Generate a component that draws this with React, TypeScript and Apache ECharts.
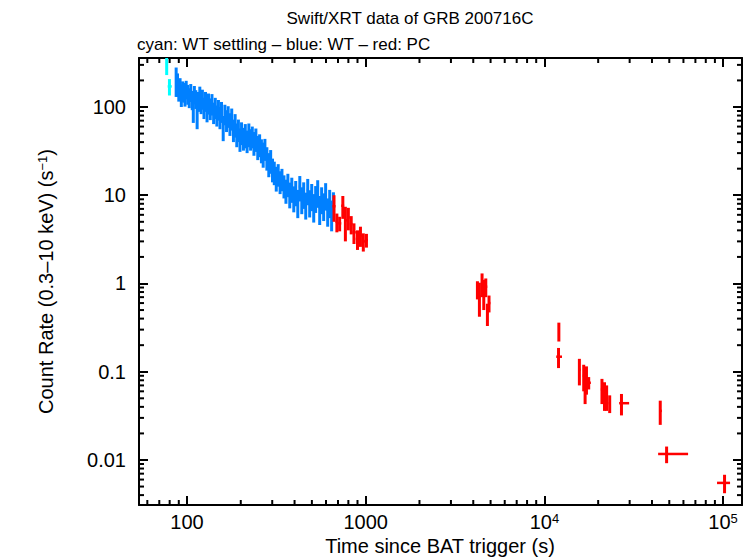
import React, { useEffect, useRef } from 'react';
import * as echarts from 'echarts';

const X_MIN = 53.9;
const X_MAX = 127600;
const Y_MIN = 0.00309;
const Y_MAX = 359;
const FONT = '"Liberation Sans", Arial, Helvetica, sans-serif';

// WT settling (cyan)
const settlingTime = [77.0, 79.8];
const settlingTimeLo = [76.2, 78.0];
const settlingTimeHi = [77.8, 82.2];
const settlingRate = [315, 171];
const settlingErr = [85, 36];

// WT (blue)
const wtTime = [87, 88.5, 90, 91.5, 93, 94.5, 96, 97.5, 99,
  101, 103, 105, 107, 108.5, 110, 112, 114, 116, 118, 120,
  122, 124.5, 127, 129.5, 132, 135, 138, 141, 144, 147, 150,
  153, 156, 159.5, 163, 166.5, 170, 174, 178, 182, 186, 190,
  194, 198, 202, 207, 212, 217, 222, 227, 232, 237,
  243, 249, 255, 261, 267, 273, 280, 287, 294, 301,
  308, 316, 324, 332, 340, 349, 358, 367, 376, 386,
  396, 406, 417, 428, 439, 450, 462, 474, 486, 499,
  512, 525, 539, 553, 567, 582, 597, 613, 629, 645, 660];
const wtRate = [205, 185, 160, 170, 140, 155, 150, 135, 160,
  142, 130, 148, 122, 92, 140, 125, 80, 118, 135, 110,
  125, 100, 118, 92, 112, 98, 110, 88, 100, 82, 95,
  78, 90, 60, 84, 72, 80, 66, 75, 56, 64, 50,
  56, 44, 52, 45, 49, 42, 50, 44, 47, 40,
  44, 36, 38, 33, 30, 34, 27, 23, 25, 20,
  18.5, 16, 17.5, 14.5, 15.5, 13, 11.5, 13.5, 10.5, 12,
  9.5, 11, 8.5, 12.5, 9.2, 10.5, 8, 11.5, 8.5, 10,
  7.6, 9.5, 11, 7.2, 9.2, 7.8, 10.2, 6.8, 8.5, 6.3, 8];
const wtErr = [75, 55, 45, 42, 40, 40, 38, 34, 38,
  36, 33, 34, 30, 26, 33, 30, 24, 30, 35, 27,
  32, 27, 30, 25, 30, 27, 30, 24, 27, 22, 25,
  22, 24, 19, 22, 20, 22, 19, 21, 16, 19, 15,
  16, 13, 15, 13, 15, 12, 15, 12, 13, 12,
  13, 11, 11, 10, 9.5, 9.5, 8, 7, 7.5, 6,
  5.5, 5, 5, 4.2, 4.4, 3.8, 3.5, 4, 3.4, 3.8,
  3.1, 3.5, 3, 4, 3.1, 3.5, 2.7, 3.8, 2.9, 3.4,
  2.7, 3.2, 3.8, 2.6, 3.1, 2.7, 3.5, 2.4, 3, 2.4, 2.8];

// PC (red)
const pcTime = [665, 690, 715, 745, 770, 800, 830, 860, 900, 935, 970, 1010,
  4220, 4330, 4480, 4580, 4700, 4800, 4900,
  12050, 12000,
  15700, 16600, 16900, 17200, 17700,
  21000, 21700, 22300, 23200,
  27000, 44500, 48300, 101900];
const pcTimeLo = [652, 678, 702, 730, 758, 785, 815, 845, 880, 918, 952, 990,
  4150, 4290, 4420, 4540, 4620, 4740, 4840,
  11950, 11650,
  15450, 16400, 16750, 17000, 17300,
  20700, 21450, 22000, 22900,
  26200, 43800, 43300, 92500];
const pcTimeHi = [678, 702, 730, 758, 785, 815, 845, 880, 918, 952, 990, 1030,
  4290, 4400, 4540, 4620, 4790, 4860, 4990,
  12150, 12550,
  15950, 16800, 17050, 17400, 18200,
  21300, 21950, 22600, 23500,
  29800, 45400, 63700, 109400];
const pcRate = [7.5, 5.0, 4.8, 7.6, 5.2, 5.6, 4.7, 3.8, 3.2, 3.5, 3.0, 3.1,
  0.86, 0.72, 1.0, 0.8, 0.92, 0.46, 0.6,
  0.29, 0.148,
  0.105, 0.09, 0.068, 0.085, 0.075,
  0.063, 0.056, 0.053, 0.044,
  0.044, 0.036, 0.0117, 0.0055];
const pcErr = [2.5, 1.2, 0.9, 2.2, 2.2, 1.6, 1.1, 1.0, 0.8, 0.9, 0.7, 0.55,
  0.2, 0.3, 0.3, 0.3, 0.22, 0.13, 0.13,
  0.07, 0.038,
  0.035, 0.03, 0.025, 0.03, 0.012,
  0.02, 0.02, 0.017, 0.01,
  0.012, 0.011, 0.0025, 0.0013];

function rows(t: number[], lo: number[], hi: number[], r: number[], e: number[]) {
  return t.map((v, i) => [v, lo[i], hi[i], r[i], e[i]]);
}

function wtEdges() {
  const lo: number[] = [];
  const hi: number[] = [];
  for (let i = 0; i < wtTime.length; i++) {
    const prev = i > 0 ? wtTime[i - 1] : wtTime[i] * wtTime[i] / wtTime[i + 1];
    const next = i < wtTime.length - 1 ? wtTime[i + 1] : wtTime[i] * wtTime[i] / wtTime[i - 1];
    lo.push(Math.sqrt(prev * wtTime[i]));
    hi.push(Math.sqrt(next * wtTime[i]));
  }
  return { lo, hi };
}

const makeErrRender = (color: string) => (params: any, api: any) => {
  const t = api.value(0), lo = api.value(1), hi = api.value(2), r = api.value(3), e = api.value(4);
  const c = api.coord([t, r]);
  const a = api.coord([lo, r]);
  const b = api.coord([hi, r]);
  const top = api.coord([t, r + e]);
  const bot = api.coord([t, Math.max(r - e, Y_MIN * 0.5)]);
  return {
    type: 'group',
    children: [
      { type: 'line', shape: { x1: a[0], y1: c[1], x2: b[0], y2: c[1] }, style: { stroke: color, lineWidth: 2.5 } },
      { type: 'line', shape: { x1: c[0], y1: top[1], x2: c[0], y2: bot[1] }, style: { stroke: color, lineWidth: 3 } },
    ],
  };
};

const minorTickRender = (params: any, api: any) => {
  const cs = params.coordSys;
  const children: any[] = [];
  const st = { stroke: '#000', lineWidth: 2 };
  const L = 5;
  for (let k = 0; k <= 6; k++) {
    for (let m = 2; m <= 9; m++) {
      const v = m * Math.pow(10, k);
      if (v <= X_MIN || v >= X_MAX) continue;
      const px = api.coord([v, 1])[0];
      children.push({ type: 'line', shape: { x1: px, y1: cs.y + cs.height, x2: px, y2: cs.y + cs.height - L }, style: st });
      children.push({ type: 'line', shape: { x1: px, y1: cs.y, x2: px, y2: cs.y + L }, style: st });
    }
  }
  for (let k = -4; k <= 3; k++) {
    for (let m = 2; m <= 9; m++) {
      const v = m * Math.pow(10, k);
      if (v <= Y_MIN || v >= Y_MAX) continue;
      const py = api.coord([100, v])[1];
      children.push({ type: 'line', shape: { x1: cs.x, y1: py, x2: cs.x + L, y2: py }, style: st });
      children.push({ type: 'line', shape: { x1: cs.x + cs.width, y1: py, x2: cs.x + cs.width - L, y2: py }, style: st });
    }
  }
  return { type: 'group', children };
};

const powerOf = (v: number) => {
  const l = Math.log10(v);
  const e = Math.round(l);
  return Math.abs(l - e) < 1e-6 ? e : null;
};

const fmtX = (v: number) => {
  const e = powerOf(v);
  if (e === null) return '';
  if (e <= 3) return String(Math.round(Math.pow(10, e)));
  return `{b|10}{s|${e}}`;
};

const fmtY = (v: number) => {
  const e = powerOf(v);
  if (e === null) return '';
  if (e >= 0) return String(Math.round(Math.pow(10, e)));
  return '0.' + '0'.repeat(-e - 1) + '1';
};

export default function App() {
  const ref = useRef<HTMLDivElement>(null);
  useEffect(() => {
    if (!ref.current) return;
    const chart = echarts.init(ref.current, null, { renderer: 'svg' });
    const { lo, hi } = wtEdges();
    const axisCommon: any = {
      type: 'log',
      logBase: 10,
      axisLine: { show: true, onZero: false, lineStyle: { color: '#000', width: 2 } },
      axisTick: { show: true, inside: true, length: 9, lineStyle: { color: '#000', width: 2 } },
      splitLine: { show: false },
      minorTick: { show: false },
    };
    const labelCommon = { color: '#000', fontSize: 20, fontFamily: FONT, showMinLabel: false, showMaxLabel: false };
    chart.setOption({
      animation: false,
      backgroundColor: '#fff',
      grid: { left: 139, right: 9, top: 58, bottom: 53, containLabel: false },
      xAxis: [
        {
          ...axisCommon, min: X_MIN, max: X_MAX, position: 'bottom',
          axisLabel: {
            ...labelCommon, margin: 7, formatter: fmtX,
            rich: {
              b: { fontSize: 20, fontFamily: FONT, color: '#000', lineHeight: 20 },
              s: { fontSize: 13, fontFamily: FONT, color: '#000', verticalAlign: 'top', lineHeight: 13 },
            },
          },
        },
        { ...axisCommon, min: X_MIN, max: X_MAX, position: 'top', axisLabel: { show: false } },
      ],
      yAxis: [
        { ...axisCommon, min: Y_MIN, max: Y_MAX, position: 'left', axisLabel: { ...labelCommon, margin: 13, formatter: fmtY } },
        { ...axisCommon, min: Y_MIN, max: Y_MAX, position: 'right', axisLabel: { show: false } },
      ],
      graphic: [
        { type: 'text', x: 410, y: 18, style: { text: 'Swift/XRT data of GRB 200716C', fontSize: 17, fontFamily: FONT, fill: '#000', align: 'center', verticalAlign: 'middle' } },
        { type: 'text', x: 137, y: 44, style: { text: 'cyan: WT settling – blue: WT – red: PC', fontSize: 17, fontFamily: FONT, fill: '#000', align: 'left', verticalAlign: 'middle' } },
        { type: 'text', x: 440, y: 546, style: { text: 'Time since BAT trigger (s)', fontSize: 20, fontFamily: FONT, fill: '#000', align: 'center', verticalAlign: 'middle' } },
        {
          type: 'text', x: 46, y: 281.5, rotation: Math.PI / 2,
          style: {
            text: '{a|Count Rate (0.3–10 keV) (s}{s|−1}{a|)}',
            align: 'center', verticalAlign: 'middle',
            rich: {
              a: { fontSize: 20, fontFamily: FONT, fill: '#000', color: '#000', lineHeight: 20 },
              s: { fontSize: 13, fontFamily: FONT, fill: '#000', color: '#000', verticalAlign: 'top', lineHeight: 13 },
            },
          },
        },
      ],
      series: [
        {
          type: 'custom', name: 'minor', xAxisIndex: 0, yAxisIndex: 0, silent: true, clip: false,
          data: [[100, 1]], encode: { x: 0, y: 1 }, renderItem: minorTickRender, z: 5,
        },
        {
          type: 'custom', name: 'WT', xAxisIndex: 0, yAxisIndex: 0, clip: true,
          data: rows(wtTime, lo, hi, wtRate, wtErr), encode: { x: 0, y: 3 }, renderItem: makeErrRender('#0080ff'),
        },
        {
          type: 'custom', name: 'PC', xAxisIndex: 0, yAxisIndex: 0, clip: true,
          data: rows(pcTime, pcTimeLo, pcTimeHi, pcRate, pcErr), encode: { x: 0, y: 3 }, renderItem: makeErrRender('#ff0000'),
        },
        {
          type: 'custom', name: 'WT settling', xAxisIndex: 0, yAxisIndex: 0, clip: true,
          data: rows(settlingTime, settlingTimeLo, settlingTimeHi, settlingRate, settlingErr), encode: { x: 0, y: 3 }, renderItem: makeErrRender('#00ffff'),
        },
      ],
    });
    return () => chart.dispose();
  }, []);
  return <div ref={ref} style={{ position: 'absolute', left: 0, top: 0, width: 751, height: 558, background: '#fff' }} />;
}
